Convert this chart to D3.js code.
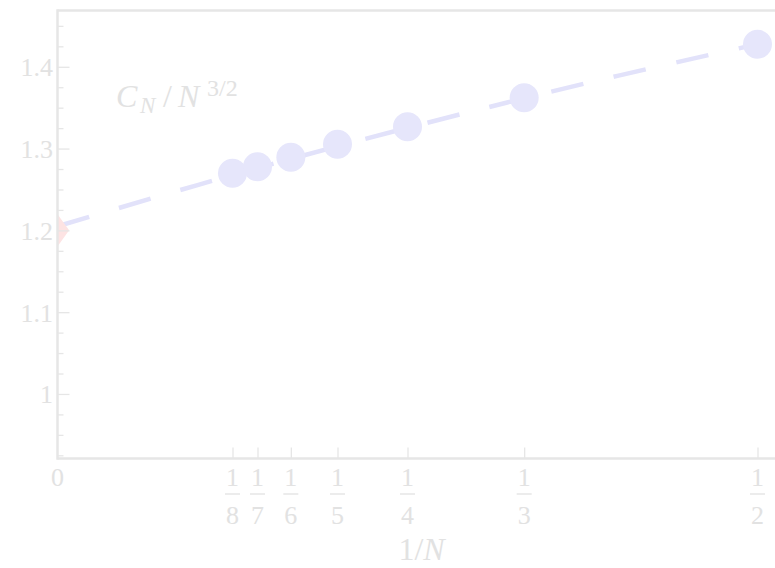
<!DOCTYPE html>
<html>
<head>
<meta charset="utf-8">
<script src="https://cdn.jsdelivr.net/npm/d3@7"></script>
<style>
  html, body { margin: 0; padding: 0; background: #ffffff; }
  svg { display: block; }
  text { font-family: "Liberation Serif", "DejaVu Serif", serif; }
</style>
</head>
<body>
<svg id="chart" width="775" height="568"></svg>
<script>
// Lattice sizes N and the measured ratio C_N / N^{3/2}
const nValues = [8, 7, 6, 5, 4, 3, 2];
const ratioValues = [1.2698, 1.2779, 1.2894, 1.3053, 1.3268, 1.3622, 1.4275];

// Extrapolated N -> infinity value
const limitValue = 1.2;

// Points along the fitted curve (1/N, ratio)
const fitInvN = [0, 0.1, 0.2, 0.3, 0.4, 0.5, 0.52];
const fitRatio = [1.205, 1.2554, 1.3028, 1.3472, 1.3889, 1.4276, 1.4349];

// Y axis ticks
const yMajorTicks = [1, 1.1, 1.2, 1.3, 1.4];
const yMinorTicks = [0.925, 0.95, 0.975, 1.025, 1.05, 1.075, 1.125, 1.15, 1.175,
                     1.225, 1.25, 1.275, 1.325, 1.35, 1.375, 1.425, 1.45];
const yTickLabels = ["1", "1.1", "1.2", "1.3", "1.4"];

const W = 775, H = 568;
const plotLeft = 57.5, plotRight = 775, plotTop = 10.5, plotBottom = 458.5;

const x = d3.scaleLinear().domain([0, 0.5]).range([plotLeft, 757.5]);
const y = d3.scaleLinear().domain([0.9211, 1.4688]).range([plotBottom, plotTop]);

const axisColor = "#e6e6e6";
const textColor = "#e2e2e2";
const pointColor = "#e6e6fb";
const lineColor = "#e2e2fa";
const limitColor = "#fde3e3";

const svg = d3.select("#chart");

svg.append("defs").append("clipPath").attr("id", "plotClip")
  .append("rect").attr("x", plotLeft).attr("y", plotTop)
  .attr("width", plotRight - plotLeft + 10).attr("height", plotBottom - plotTop);

const plot = svg.append("g").attr("clip-path", "url(#plotClip)");

// Fitted curve, dashed
const fitData = fitInvN.map((u, i) => ({ u, v: fitRatio[i] }));
plot.append("path")
  .datum(fitData)
  .attr("d", d3.line().x(d => x(d.u)).y(d => y(d.v)).curve(d3.curveNatural))
  .attr("fill", "none")
  .attr("stroke", lineColor)
  .attr("stroke-width", 4.5)
  .attr("stroke-dasharray", "33 31");

// Extrapolated limit marker (diamond)
plot.append("path")
  .attr("d", d3.symbol().type(d3.symbolDiamond).size(300)())
  .attr("transform", `translate(${x(0)},${y(limitValue)}) scale(1.25,1)`)
  .attr("fill", limitColor);

// Data points
plot.selectAll("circle.pt")
  .data(nValues.map((n, i) => ({ u: 1 / n, v: ratioValues[i] })))
  .join("circle")
  .attr("class", "pt")
  .attr("cx", d => x(d.u))
  .attr("cy", d => y(d.v))
  .attr("r", 14.5)
  .attr("fill", pointColor);

// Frame: left axis, bottom axis, top edge
const frame = svg.append("g").attr("stroke", axisColor).attr("stroke-width", 2.5).attr("fill", "none");
frame.append("line").attr("x1", plotLeft).attr("x2", plotLeft).attr("y1", plotTop - 1.25).attr("y2", plotBottom + 1.25);
frame.append("line").attr("x1", plotLeft).attr("x2", W).attr("y1", plotBottom).attr("y2", plotBottom);
frame.append("line").attr("x1", plotLeft).attr("x2", W).attr("y1", plotTop).attr("y2", plotTop);

// Y axis ticks, drawn inward
const yAxisMajor = d3.axisRight(y).tickValues(yMajorTicks).tickSize(12).tickFormat("");
const yAxisMinor = d3.axisRight(y).tickValues(yMinorTicks).tickSize(6).tickFormat("");
[yAxisMajor, yAxisMinor].forEach(ax => {
  const g = svg.append("g").attr("transform", `translate(${plotLeft},0)`).call(ax);
  g.select(".domain").remove();
  g.selectAll(".tick line").attr("stroke", axisColor).attr("stroke-width", 1.3);
});

// Y tick labels
svg.append("g").selectAll("text")
  .data(yMajorTicks)
  .join("text")
  .attr("x", 53)
  .attr("y", d => y(d))
  .attr("dy", "0.36em")
  .attr("text-anchor", "end")
  .attr("font-size", 26)
  .attr("fill", textColor)
  .text((d, i) => yTickLabels[i]);

// X axis ticks, drawn inward at 1/N positions
const xTickVals = nValues.map(n => 1 / n);
const xAxis = d3.axisTop(x).tickValues(xTickVals).tickSize(11).tickFormat("");
const gx = svg.append("g").attr("transform", `translate(0,${plotBottom})`).call(xAxis);
gx.select(".domain").remove();
gx.selectAll(".tick line").attr("stroke", axisColor).attr("stroke-width", 1.3);

// X tick labels: "0" and fractions 1/N
svg.append("text")
  .attr("x", x(0)).attr("y", 486)
  .attr("text-anchor", "middle")
  .attr("font-size", 26)
  .attr("fill", textColor)
  .text("0");

const frac = svg.append("g").selectAll("g")
  .data(nValues)
  .join("g")
  .attr("transform", n => `translate(${x(1 / n)},0)`);
frac.append("text")
  .attr("y", 486).attr("text-anchor", "middle")
  .attr("font-size", 26).attr("fill", textColor)
  .text("1");
frac.append("line")
  .attr("x1", -7.5).attr("x2", 7.5).attr("y1", 494).attr("y2", 494)
  .attr("stroke", textColor).attr("stroke-width", 1.3);
frac.append("text")
  .attr("y", 523.5).attr("text-anchor", "middle")
  .attr("font-size", 26).attr("fill", textColor)
  .text(n => String(n));

// Axis title
const xt = svg.append("text")
  .attr("x", x(0.25) + 14).attr("y", 560)
  .attr("text-anchor", "middle")
  .attr("font-size", 32)
  .attr("fill", textColor);
xt.append("tspan").text("1/");
xt.append("tspan").attr("font-style", "italic").text("N");

// Quantity label C_N / N^{3/2}
const ql = svg.append("text")
  .attr("y", 107)
  .attr("font-size", 32)
  .attr("fill", textColor);
ql.append("tspan").attr("x", 116).attr("font-style", "italic").text("C");
ql.append("tspan").attr("x", 140).attr("dy", 6).attr("font-style", "italic").attr("font-size", 23).text("N");
ql.append("tspan").attr("x", 163).attr("dy", -6).text("/");
ql.append("tspan").attr("x", 178).attr("font-style", "italic").text("N");
ql.append("tspan").attr("x", 207).attr("dy", -11).attr("font-size", 24).text("3/2");
</script>
</body>
</html>
